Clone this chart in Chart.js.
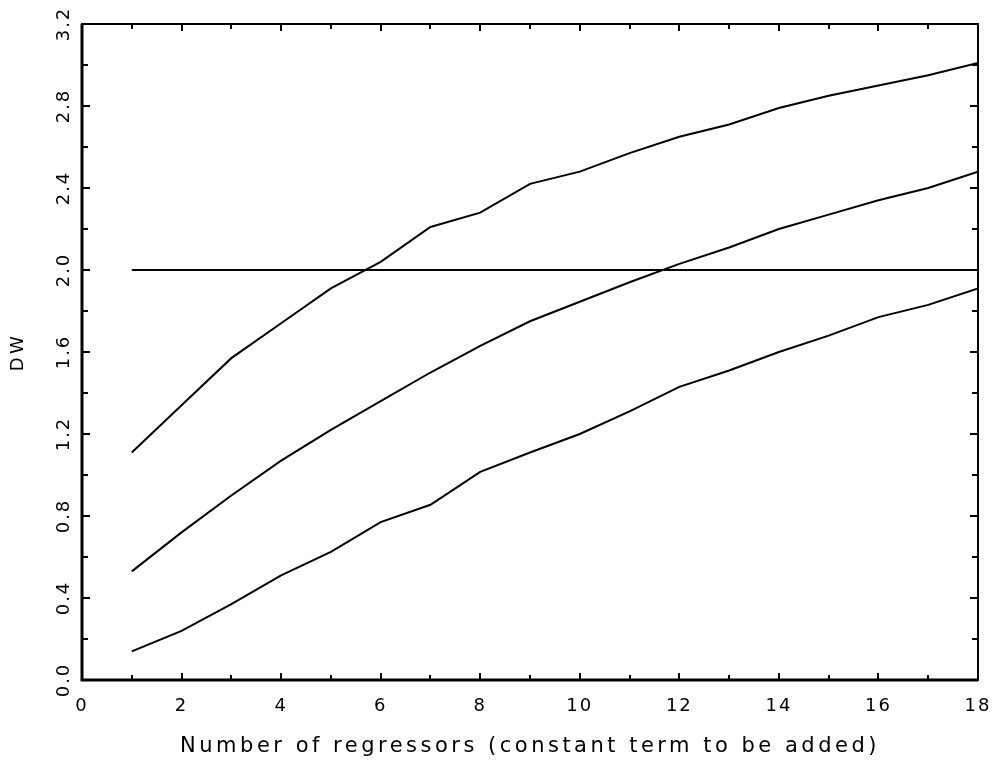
<!DOCTYPE html>
<html>
<head>
<meta charset="utf-8">
<script src="https://cdn.jsdelivr.net/npm/chart.js@4/dist/chart.umd.min.js"></script>
<style>
  html, body { margin: 0; padding: 0; background: #fff; }
  #wrap { width: 996px; height: 765px; }
</style>
</head>
<body>
<div id="wrap"><canvas id="dwChart" width="996" height="765"></canvas></div>
<script>
// number of regressors (constant term added separately)
var regressors = [1, 2, 3, 4, 5, 6, 7, 8, 9, 10, 11, 12, 13, 14, 15, 16, 17, 18];
var dwUpper = [1.11, 1.34, 1.57, 1.74, 1.91, 2.04, 2.21, 2.28, 2.42, 2.48, 2.57, 2.65, 2.71, 2.79, 2.85, 2.90, 2.95, 3.01];
var dwMiddle = [0.53, 0.72, 0.90, 1.07, 1.22, 1.36, 1.50, 1.63, 1.75, 1.845, 1.94, 2.03, 2.11, 2.20, 2.27, 2.34, 2.40, 2.48];
var dwLower = [0.14, 0.24, 0.37, 0.51, 0.625, 0.77, 0.855, 1.015, 1.11, 1.20, 1.31, 1.43, 1.51, 1.60, 1.68, 1.77, 1.83, 1.91];
var dwReference = [2.0, 2.0, 2.0, 2.0, 2.0, 2.0, 2.0, 2.0, 2.0, 2.0, 2.0, 2.0, 2.0, 2.0, 2.0, 2.0, 2.0, 2.0];

var xMinorTicks = [1, 2, 3, 4, 5, 6, 7, 8, 9, 10, 11, 12, 13, 14, 15, 16, 17];
var yMinorTicks = [0.2, 0.4, 0.6, 0.8, 1.0, 1.2, 1.4, 1.6, 1.8, 2.0, 2.2, 2.4, 2.6, 2.8, 3.0];

var FONT = "'DejaVu Sans', sans-serif";

function points(ys) {
  return regressors.map(function (x, i) {
    return { x: x, y: ys[i] };
  });
}

function lineSet(ys) {
  return {
    data: points(ys),
    borderColor: "#000",
    borderWidth: 2,
    pointRadius: 0,
    tension: 0,
    fill: false,
  };
}

// wide letter spacing for the axis texts
function spaced(fn, spacing) {
  return function () {
    var ctx = this.ctx;
    ctx.save();
    ctx.letterSpacing = spacing;
    fn.apply(this, arguments);
    ctx.restore();
  };
}

var letterSpacing = {
  id: "letterSpacing",
  beforeDraw: function (chart) {
    Object.values(chart.scales).forEach(function (scale) {
      if (scale._spaced) return;
      scale._spaced = true;
      scale.drawTitle = spaced(scale.drawTitle, "3.5px");
      scale.drawLabels = spaced(scale.drawLabels, "2px");
    });
  },
};

// box round the plot with small ticks pointing inward on all four sides
var frameTicks = {
  id: "frameTicks",
  afterDraw: function (chart) {
    var ctx = chart.ctx;
    var area = chart.chartArea;
    var xs = chart.scales.x;
    var ys = chart.scales.y;
    ctx.save();
    ctx.strokeStyle = "#000";
    ctx.lineWidth = 2;
    ctx.strokeRect(area.left, area.top, area.right - area.left, area.bottom - area.top);
    ctx.lineWidth = 3;
    ctx.beginPath();
    ctx.moveTo(area.left, area.top);
    ctx.lineTo(area.left, area.bottom);
    ctx.lineTo(area.right, area.bottom);
    ctx.stroke();

    ctx.lineWidth = 2;
    ctx.beginPath();
    xMinorTicks.forEach(function (v) {
      var px = Math.round(xs.getPixelForValue(v));
      var len = v % 2 === 0 ? 7 : 5;
      ctx.moveTo(px, area.bottom);
      ctx.lineTo(px, area.bottom - len);
      ctx.moveTo(px, area.top);
      ctx.lineTo(px, area.top + len);
    });
    yMinorTicks.forEach(function (v, i) {
      var py = Math.round(ys.getPixelForValue(v));
      var len = i % 2 === 1 ? 8 : 6;
      ctx.moveTo(area.left, py);
      ctx.lineTo(area.left + len, py);
      ctx.moveTo(area.right, py);
      ctx.lineTo(area.right - len, py);
    });
    ctx.stroke();
    ctx.restore();
  },
};

new Chart(document.getElementById("dwChart"), {
  type: "line",
  data: {
    datasets: [lineSet(dwReference), lineSet(dwUpper), lineSet(dwMiddle), lineSet(dwLower)],
  },
  options: {
    responsive: false,
    animation: false,
    layout: { padding: { top: 24, right: 18, bottom: 0, left: 0 } },
    plugins: {
      legend: { display: false },
      tooltip: { enabled: false },
    },
    scales: {
      x: {
        type: "linear",
        min: 0,
        max: 18,
        grid: { display: false, drawTicks: false },
        border: { display: false },
        ticks: {
          stepSize: 2,
          padding: 16,
          color: "#000",
          font: { family: FONT, size: 18 },
          callback: function (v) {
            return String(v);
          },
        },
        title: {
          display: true,
          text: "Number of regressors (constant term to be added)",
          color: "#000",
          font: { family: FONT, size: 21 },
          padding: { top: 0, bottom: 6 },
        },
        afterFit: function (scale) {
          scale.height = 85;
          scale.paddingLeft = 0;
          scale.paddingRight = 0;
        },
      },
      y: {
        type: "linear",
        min: 0,
        max: 3.2,
        grid: { display: false, drawTicks: false },
        border: { display: false },
        ticks: {
          stepSize: 0.4,
          padding: 3,
          minRotation: 90,
          maxRotation: 90,
          crossAlign: "center",
          color: "#000",
          font: { family: FONT, size: 18 },
          callback: function (v) {
            return v.toFixed(1);
          },
        },
        title: {
          display: true,
          text: "DW",
          color: "#000",
          font: { family: FONT, size: 18 },
          padding: { top: 8, bottom: 0 },
        },
        afterFit: function (scale) {
          scale.width = 82;
          scale.paddingTop = 0;
          scale.paddingBottom = 0;
        },
      },
    },
  },
  plugins: [letterSpacing, frameTicks],
});
</script>
</body>
</html>
